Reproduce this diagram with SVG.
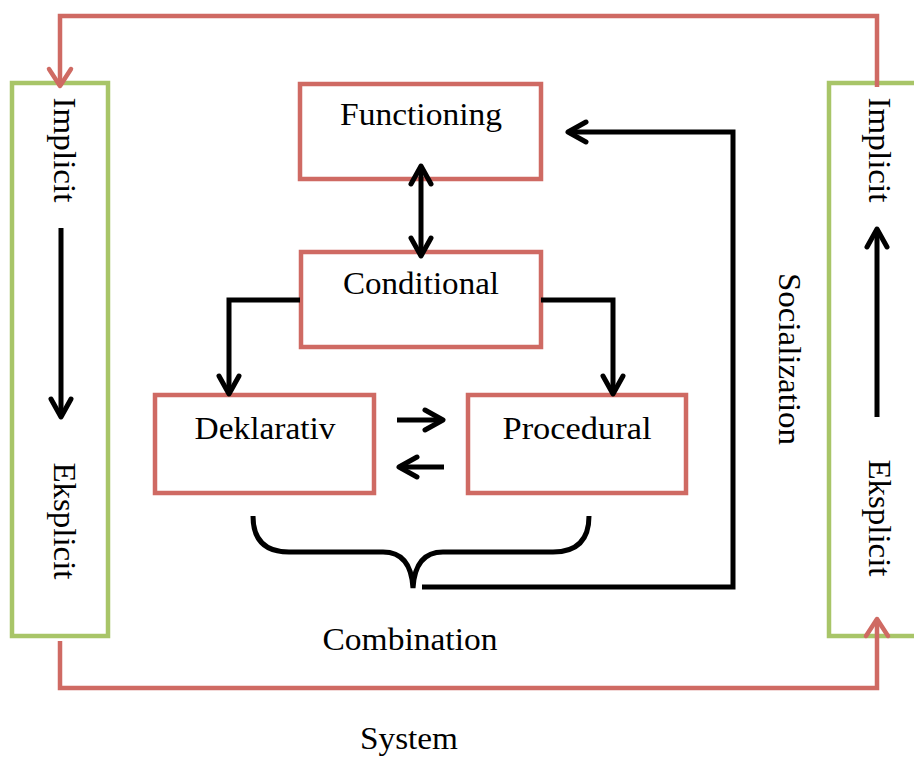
<svg xmlns="http://www.w3.org/2000/svg" width="914" height="758" viewBox="0 0 914 758">
<defs>
<style>
.box{fill:#fff;stroke:#CF6A63;stroke-width:4.5}
.side{fill:#fff;stroke:#A8C568;stroke-width:4.5}
.blk{fill:none;stroke:#000;stroke-width:5;stroke-linejoin:miter}
.red{fill:none;stroke:#CF6A63;stroke-width:4.5}
text{font-family:"Liberation Serif","Times New Roman",serif;font-size:31px;fill:#000}
</style>
<marker id="ab" markerUnits="userSpaceOnUse" markerWidth="30" markerHeight="30" refX="0" refY="0" orient="auto" overflow="visible">
<path d="M-18,-10 L0,0 L-18,10" fill="none" stroke="#000" stroke-width="5" stroke-linecap="round" stroke-linejoin="round"/>
</marker>
<marker id="abs" markerUnits="userSpaceOnUse" markerWidth="30" markerHeight="30" refX="0" refY="0" orient="auto-start-reverse" overflow="visible">
<path d="M-18,-10 L0,0 L-18,10" fill="none" stroke="#000" stroke-width="5" stroke-linecap="round" stroke-linejoin="round"/>
</marker>
<marker id="ar" markerUnits="userSpaceOnUse" markerWidth="30" markerHeight="30" refX="0" refY="0" orient="auto" overflow="visible">
<path d="M-17,-11 L0,0 L-17,11" fill="none" stroke="#CF6A63" stroke-width="4.5" stroke-linecap="round" stroke-linejoin="round"/>
</marker>
</defs>
<rect width="914" height="758" fill="#fff"/>

<g id="left-side">
<rect class="side" x="12" y="83" width="96" height="553"/>
<text transform="translate(54,150) rotate(90)" text-anchor="middle" textLength="105" lengthAdjust="spacingAndGlyphs">Implicit</text>
<text transform="translate(54,521) rotate(90)" text-anchor="middle" textLength="117" lengthAdjust="spacingAndGlyphs">Eksplicit</text>
</g>
<g id="right-side">
<rect class="side" x="829" y="83" width="100" height="553"/>
<text transform="translate(869,150) rotate(90)" text-anchor="middle" textLength="105" lengthAdjust="spacingAndGlyphs">Implicit</text>
<text transform="translate(869,518) rotate(90)" text-anchor="middle" textLength="117" lengthAdjust="spacingAndGlyphs">Eksplicit</text>
</g>

<g id="functioning">
<rect class="box" x="300" y="84" width="241" height="95"/>
<text x="421" y="125" text-anchor="middle" textLength="162" lengthAdjust="spacingAndGlyphs">Functioning</text>
</g>
<g id="conditional">
<rect class="box" x="301" y="252" width="240" height="95"/>
<text x="421" y="294" text-anchor="middle" textLength="156" lengthAdjust="spacingAndGlyphs">Conditional</text>
</g>
<g id="deklarativ">
<rect class="box" x="155" y="395" width="219" height="98"/>
<text x="265" y="439" text-anchor="middle" textLength="141" lengthAdjust="spacingAndGlyphs">Deklarativ</text>
</g>
<g id="procedural">
<rect class="box" x="468" y="395" width="218" height="98"/>
<text x="577" y="439" text-anchor="middle" textLength="149" lengthAdjust="spacingAndGlyphs">Procedural</text>
</g>

<g id="labels">
<text transform="translate(779,359) rotate(90)" text-anchor="middle" textLength="172" lengthAdjust="spacingAndGlyphs">Socialization</text>
<text x="410" y="650" text-anchor="middle" textLength="175" lengthAdjust="spacingAndGlyphs">Combination</text>
<text x="409" y="749" text-anchor="middle" textLength="98" lengthAdjust="spacingAndGlyphs">System</text>
</g>

<g id="connectors">
<path class="red" d="M877,87 L877,16 L60,16 L60,86" marker-end="url(#ar)"/>
<path class="red" d="M60,641 L60,688 L877,688 L877,619" marker-end="url(#ar)"/>
<path class="blk" d="M61,228 L61,417" marker-end="url(#ab)"/>
<path class="blk" d="M877,417 L877,229" marker-end="url(#ab)"/>
<path class="blk" d="M421,166 L421,256" marker-start="url(#abs)" marker-end="url(#abs)"/>
<path class="blk" d="M300,300 L229,300 L229,394" marker-end="url(#ab)"/>
<path class="blk" d="M541,300 L613,300 L613,394" marker-end="url(#ab)"/>
<path class="blk" d="M397,420 L443,420" marker-end="url(#ab)"/>
<path class="blk" d="M444,467 L399,467" marker-end="url(#ab)"/>
<path class="blk" d="M253,516 Q253,552 289,552 L383,552 Q411,552 413,588 Q415,552 443,552 L553,552 Q589,552 589,516"/>
<path class="blk" d="M422,587 L733,587 L733,132 L568,132" marker-end="url(#ab)"/>
</g>
</svg>
